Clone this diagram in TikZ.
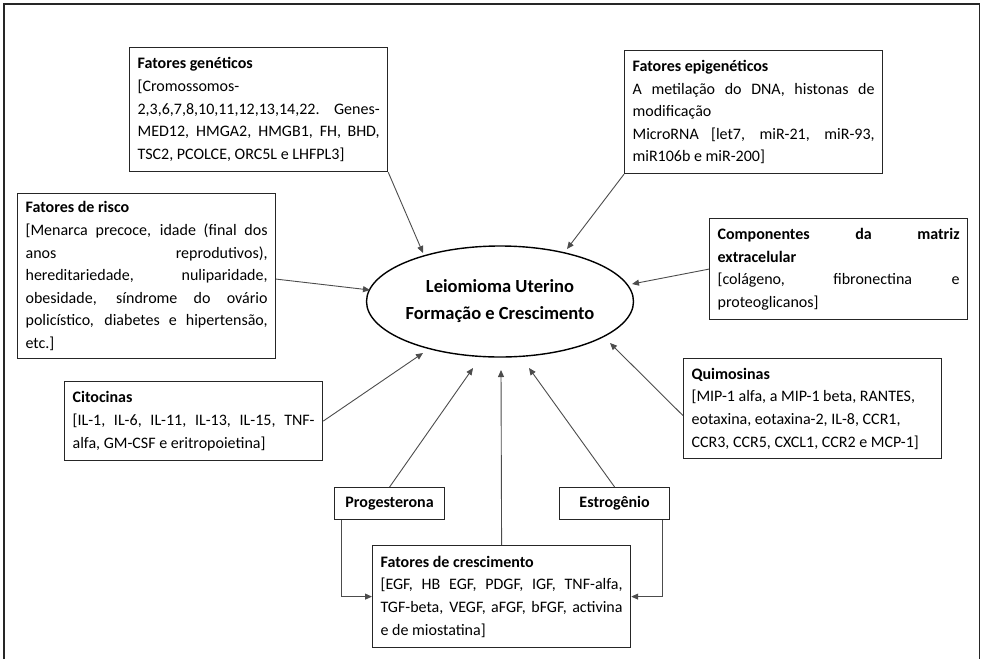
\documentclass[tikz,border=0pt]{standalone}
\usepackage{fontspec}
\setmainfont{Carlito}
\usetikzlibrary{arrows.meta,shapes.geometric}
\begin{document}
\tolerance=10000
\hyphenpenalty=10000
\begin{tikzpicture}[x=1pt,y=-1pt,
  infobox/.style={draw=black!85, line width=1.2pt, inner xsep=8pt, inner ysep=4pt,
    text width=242pt, align=justify, anchor=north west, font=\fontsize{16}{22.6}\selectfont},
  hormbox/.style={draw=black!85, line width=1.2pt, minimum width=110pt, minimum height=32pt,
    inner sep=2pt, anchor=north west, font=\fontsize{16}{20}\selectfont\bfseries},
  mainell/.style={draw=black, line width=1.4pt, ellipse, minimum width=254pt, minimum height=111pt,
    inner sep=0pt, align=center, font=\fontsize{18.5}{27}\selectfont\bfseries},
  arr/.style={draw=black!70, line width=0.9pt, -{Triangle[length=7pt,width=6pt]}},
  frame/.style={draw=black!85, line width=1.3pt}
]
\useasboundingbox (0,0) rectangle (984,659);
\draw[frame] (4,659) -- (4,4) -- (979.5,4) -- (979.5,659);

\node[mainell] (ell) at (500,301.5) {Leiomioma Uterino\\Formação e Crescimento};

\node[infobox, minimum height=124pt] (gen) at (129,47) {\textbf{Fatores genéticos}\newline
[Cromossomos-\newline
2,3,6,7,8,10,11,12,13,14,22. \ Genes-\linebreak
MED12, HMGA2, HMGB1, FH, BHD,\linebreak
TSC2, PCOLCE, ORC5L e LHFPL3]};

\node[infobox, minimum height=165pt] (risco) at (17,193) {\textbf{Fatores de risco}\newline
[Menarca precoce, idade (final dos\linebreak
anos reprodutivos),\linebreak
hereditariedade, nuliparidade,\linebreak
obesidade, síndrome do ovário\linebreak
policístico, diabetes e hipertensão,\linebreak
etc.]};

\node[infobox, minimum height=123pt] (epi) at (624,50) {\textbf{Fatores epigenéticos}\newline
A metilação do DNA, histonas de\linebreak
modificação\newline
MicroRNA [let7, miR-21, miR-93,\linebreak
miR106b e miR-200]};

\node[infobox, minimum height=101pt] (comp) at (709,218) {\textbf{Componentes da matriz\linebreak
extracelular}\newline
[colágeno, fibronectina e\linebreak
proteoglicanos]};

\node[infobox, minimum height=79pt] (cito) at (64,381) {\textbf{Citocinas}\newline
[IL-1, IL-6, IL-11, IL-13, IL-15, TNF-\linebreak
alfa, GM-CSF e eritropoietina]};

\node[infobox, minimum height=100pt] (quim) at (683,358) {\textbf{Quimosinas}\newline
[MIP-1 alfa, a MIP-1 beta, RANTES,\newline
eotaxina, eotaxina-2, IL-8, CCR1,\newline
CCR3, CCR5, CXCL1, CCR2 e MCP-1]};

\node[infobox, minimum height=102pt] (cresc) at (372,545) {\textbf{Fatores de crescimento}\newline
[EGF, HB EGF, PDGF, IGF, TNF-alfa,\linebreak
TGF-beta, VEGF, aFGF, bFGF, activina\linebreak
e de miostatina]};

\node[hormbox] (prog) at (334,487) {Progesterona};
\node[hormbox] (estr) at (559,487) {Estrogênio};

\coordinate (tgen) at (423,253);
\coordinate (trisco) at (370,290);
\coordinate (tepi) at (567,249);
\coordinate (tcomp) at (632,284);
\coordinate (tcito) at (423,353);
\coordinate (tprog) at (473,368);
\coordinate (tcresc) at (501,370);
\coordinate (testr) at (529,368);
\coordinate (tquim) at (610,343);

\draw[arr] (gen.south east) -- (tgen);
\draw[arr] ([yshift=-3pt]risco.east) -- (trisco);
\draw[arr] (epi.south west) -- (tepi);
\draw[arr] (comp.west) -- (tcomp);
\draw[arr] (cito.east) -- (tcito);
\draw[arr] (prog.north) -- (tprog);
\draw[arr] (cresc.north) -- (tcresc);
\draw[arr] (estr.north) -- (testr);
\draw[arr] ([yshift=-7pt]quim.west) -- (tquim);
\draw[arr] ([xshift=7pt]prog.south west) |- (cresc.west);
\draw[arr] ([xshift=-8pt]estr.south east) |- (cresc.east);
\end{tikzpicture}
\end{document}
